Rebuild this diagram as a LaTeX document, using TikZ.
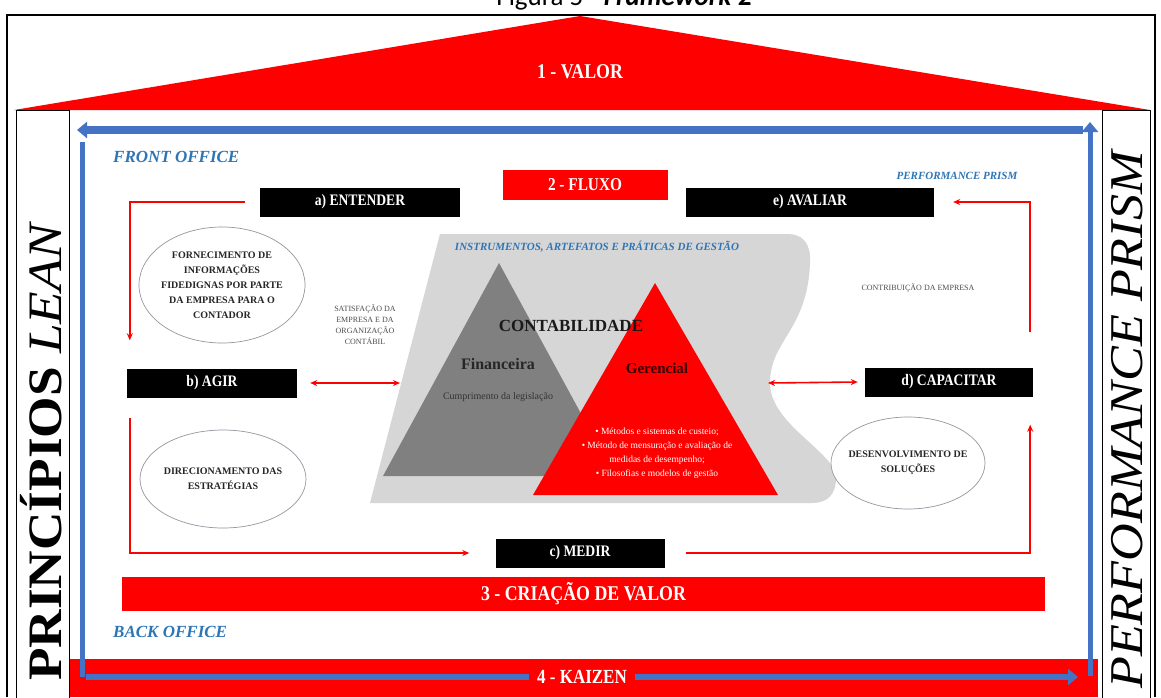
\documentclass[tikz,border=0pt]{standalone}
\usepackage{fontspec}
\setmainfont{Liberation Serif}
\newfontfamily\narrowfont{Liberation Serif}[FakeStretch=0.85]
\newfontfamily\widefont{Liberation Serif}[FakeStretch=1.11]
\newfontfamily\captionfont{Carlito}
\usetikzlibrary{arrows.meta,positioning}
\definecolor{framered}{RGB}{255,0,0}
\definecolor{frameblue}{RGB}{68,114,196}
\definecolor{textblue}{RGB}{46,117,182}
\definecolor{areagray}{RGB}{214,214,214}
\definecolor{pyrgray}{RGB}{128,128,128}
\definecolor{ellipseline}{RGB}{150,150,160}
\tikzset{
  stepbox/.style={fill=black, text=white, inner sep=0pt, minimum height=29pt,
    font=\narrowfont\bfseries\fontsize{16}{18}\selectfont},
  redbar/.style={fill=framered, text=white, inner sep=0pt,
    font=\narrowfont\bfseries\fontsize{21}{24}\selectfont},
  ideatext/.style={align=center, text=black!85, inner sep=0pt,
    font=\bfseries\fontsize{10}{15}\selectfont},
  ideaborder/.style={draw=ellipseline, fill=white, line width=0.7pt},
  smalltext/.style={align=center, text=black!70, inner sep=0pt,
    font=\fontsize{8}{11}\selectfont},
  office/.style={anchor=west, text=textblue, inner sep=0pt,
    font=\bfseries\itshape\fontsize{17}{19}\selectfont},
  redarrow/.style={draw=framered, line width=1.6pt, -{Stealth[length=7pt,width=6pt]}},
  redboth/.style={draw=framered, line width=1.6pt, {Stealth[length=7pt,width=6pt]}-{Stealth[length=7pt,width=6pt]}},
  bluearrow/.style={draw=frameblue, -{Triangle[length=10pt,width=16pt]}},
}
\begin{document}
\begin{tikzpicture}[x=1pt,y=-1pt]
\useasboundingbox (0,0) rectangle (1161,697);
\clip (0,0) rectangle (1161,697);
\fill[white] (0,0) rectangle (1161,697);

% titulo cortado
\node[anchor=base, inner sep=0pt, font=\captionfont\fontsize{27}{30}\selectfont] (titulo) at (624,5)
  {Figura 5 - \textbf{\textit{Framework}} \textbf{2}};

% moldura e telhado
\draw[line width=1.3pt] (7,697) -- (7,15) -- (1155,15) -- (1155,697);
\fill[framered] (14,110) -- (580,16) -- (1150,110) -- cycle;
\node[text=white, font=\narrowfont\bfseries\fontsize{21}{24}\selectfont] (valor) at (580,72) {1 - VALOR};

% pilares
\draw[line width=1pt] (16,110) rectangle (69,700);
\draw[line width=1pt] (1102,110) rectangle (1150,700);
\node[rotate=90, font=\widefont\fontsize{48}{52}\selectfont] (lean) at (41,451) {\textbf{PRINCÍPIOS} \textit{LEAN}};
\node[rotate=90, font=\widefont\itshape\fontsize{47}{51}\selectfont] (prism) at (1127,420) {PERFORMANCE PRISM};

% area central
\fill[areagray] (370,503) -- (440,234) -- (788,234) .. controls (803,234) and (811,244) .. (810,262)
  .. controls (808,330) and (770,340) .. (770,383) .. controls (770,425) and (836,452) .. (836,478)
  .. controls (836,494) and (828,503) .. (812,503) -- cycle;
\fill[pyrgray] (499,263) -- (383,476) -- (615,476) -- cycle;
\fill[framered] (655,283) -- (533,495) -- (778,495) -- cycle;
\node[text=textblue, font=\bfseries\itshape\fontsize{11}{13}\selectfont] (instr) at (597,247)
  {INSTRUMENTOS, ARTEFATOS E PRÁTICAS DE GESTÃO};
\node[text=black!90, font=\bfseries\fontsize{17}{19}\selectfont] (contab) at (571,326) {CONTABILIDADE};
\node[text=black!85, font=\bfseries\fontsize{16}{18}\selectfont] (financ) at (498,364) {Financeira};
\node[text=black!80, font=\fontsize{10}{12}\selectfont] (legis) at (498,397) {Cumprimento da legislação};
\node[text=black!80!red, font=\bfseries\fontsize{15}{17}\selectfont] (gerenc) at (657,368) {Gerencial};
\node[text=white, align=center, font=\fontsize{9.5}{14}\selectfont] (metodos) at (657,453)
  {• Métodos e sistemas de custeio;\\• Método de mensuração e avaliação de\\medidas de desempenho;\\• Filosofias e modelos de gestão};

% etapas
\node[stepbox, minimum width=200pt] (entender) at (360,202) {a) ENTENDER};
\node[stepbox, minimum width=248pt] (avaliar) at (810,202) {e) AVALIAR};
\node[stepbox, minimum width=170pt] (agir) at (212,383) {b) AGIR};
\node[stepbox, minimum width=168pt] (capacitar) at (949,382) {d) CAPACITAR};
\node[stepbox, minimum width=169pt] (medir) at (580,553) {c) MEDIR};
\node[redbar, minimum width=165pt, minimum height=30pt, font=\narrowfont\bfseries\fontsize{18}{20}\selectfont] (fluxo) at (585,185) {2 - FLUXO};

% elipses
\draw[ideaborder] (222,285) ellipse [x radius=83pt, y radius=58pt];
\node[ideatext] (fornec) at (222,285) {FORNECIMENTO DE\\INFORMAÇÕES\\FIDEDIGNAS POR PARTE\\DA EMPRESA PARA O\\CONTADOR};
\draw[ideaborder] (223,479) ellipse [x radius=83pt, y radius=49pt];
\node[ideatext] (direc) at (223,479) {DIRECIONAMENTO DAS\\ESTRATÉGIAS};
\draw[ideaborder] (908,463) ellipse [x radius=77pt, y radius=46pt];
\node[ideatext] (desenv) at (908,463) {DESENVOLVIMENTO DE\\SOLUÇÕES};

\node[smalltext] (satisf) at (365,325) {SATISFAÇÃO DA\\EMPRESA E DA\\ORGANIZAÇÃO\\CONTÁBIL};
\node[smalltext] (contrib) at (918,288) {CONTRIBUIÇÃO DA EMPRESA};
\node[text=textblue, font=\bfseries\itshape\fontsize{11}{13}\selectfont] (pprism) at (957,176) {PERFORMANCE PRISM};

% ciclo
\coordinate (areaL) at (400,383);
\coordinate (areaR) at (768,383);
\draw[redarrow] ([xshift=-15pt]entender.west) -| ([xshift=3pt,yshift=28pt]agir.north west);
\draw[redarrow] ([xshift=3pt,yshift=-20pt]agir.south west) |- ([xshift=-26pt]medir.west);
\draw[redarrow] ([xshift=21pt]medir.east) -| ([xshift=-3pt,yshift=-28pt]capacitar.south east);
\draw[redarrow] ([xshift=-3pt,yshift=35pt]capacitar.north east) |- ([xshift=19pt]avaliar.east);
\draw[redboth] ([xshift=13pt]agir.east) -- (areaL);
\draw[redboth] (areaR) -- ([xshift=-7pt]capacitar.west);

% base
\node[redbar, minimum width=923pt, minimum height=34pt] (criacao) at (583.5,594) {3 - CRIAÇÃO DE VALOR};
\node[redbar, minimum width=1028pt, minimum height=38pt] (kaizenbar) at (584,678) {};
\node[office] (front) at (113,157) {FRONT OFFICE};
\node[office] (back) at (113,632) {BACK OFFICE};

% setas azuis
\coordinate (bTR) at (1083,130);
\coordinate (bTL) at (77,130);
\coordinate (bLT) at (82,142);
\coordinate (bLB) at (82,677);
\coordinate (bBL) at (86,677);
\coordinate (bBR) at (1078,677);
\coordinate (bRB) at (1090,676);
\coordinate (bRT) at (1090,122);
\draw[bluearrow, line width=8pt] (bTR) -- (bTL);
\draw[draw=frameblue, line width=5pt] (bLT) -- (bLB);
\draw[bluearrow, line width=6pt] (bBL) -- (bBR);
\draw[bluearrow, line width=5pt] (bRB) -- (bRT);
\node[redbar, inner xsep=8pt, inner ysep=2pt, font=\narrowfont\bfseries\fontsize{20}{22}\selectfont] (kaizen) at (582,677) {4 - KAIZEN};
\end{tikzpicture}
\end{document}
